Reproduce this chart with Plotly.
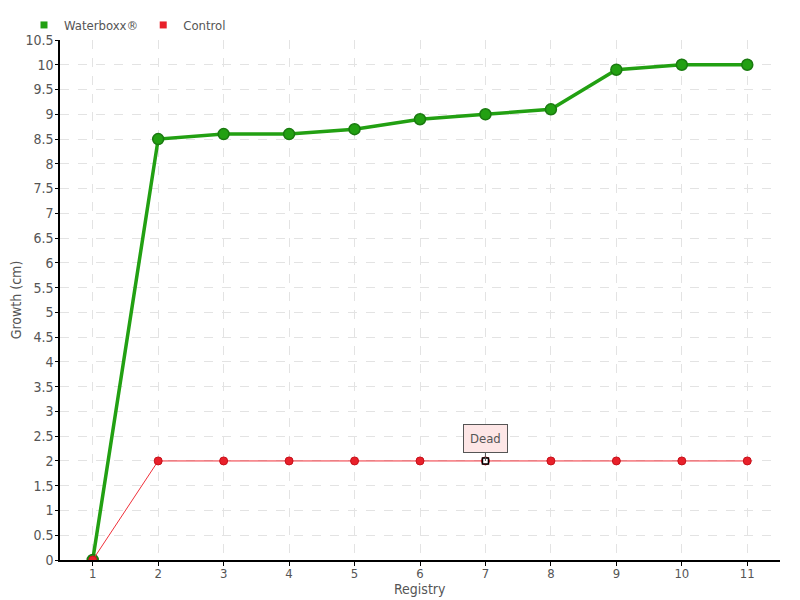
import plotly.graph_objects as go

registry = [1, 2, 3, 4, 5, 6, 7, 8, 9, 10, 11]
waterboxx = [0, 8.5, 8.6, 8.6, 8.7, 8.9, 9.0, 9.1, 9.9, 10.0, 10.0]
control = [0, 2, 2, 2, 2, 2, 2, 2, 2, 2, 2]
dead_at = 7
y_ticks = [i * 0.5 for i in range(22)]
y_labels = ["%g" % v for v in y_ticks]

FONT = "Liberation Sans Narrow, DejaVu Sans Condensed, Roboto"
GREY = "#555555"
GREEN = "#22a012"
RED = "#e8202a"

fig = go.Figure()
fig.add_trace(go.Scatter(
    x=registry, y=waterboxx, name="Waterboxx®", mode="lines+markers",
    legendgroup="w", showlegend=False,
    line=dict(color=GREEN, width=3.5),
    marker=dict(size=11, color=GREEN, line=dict(color="#1a7a10", width=1.5)),
))
fig.add_trace(go.Scatter(
    x=registry, y=control, name="Control", mode="lines+markers",
    legendgroup="c", showlegend=False,
    line=dict(color="#f0303a", width=1),
    marker=dict(size=8, color=RED, line=dict(color="#c8101a", width=1)),
))
# marker for the dead plant
fig.add_trace(go.Scatter(
    x=[dead_at], y=[control[registry.index(dead_at)]], mode="markers", showlegend=False,
    marker=dict(symbol="square", size=6, color="white", line=dict(color="black", width=1.5)),
))
# square legend entries
fig.add_trace(go.Scatter(x=[None], y=[None], name="Waterboxx®", mode="markers", legendgroup="w",
                         marker=dict(symbol="square", size=7, color=GREEN)))
fig.add_trace(go.Scatter(x=[None], y=[None], name="Control", mode="markers", legendgroup="c",
                         marker=dict(symbol="square", size=7, color=RED)))

fig.add_annotation(
    x=dead_at, y=control[registry.index(dead_at)], text="Dead",
    showarrow=True, arrowhead=0, arrowwidth=1, arrowcolor="#555555",
    ax=0, ay=-22, bgcolor="#fde6e6", bordercolor="#555555", borderwidth=1, borderpad=6,
    font=dict(family=FONT, size=13, color=GREY),
)
# x axis title sits tight under the tick labels
fig.add_annotation(
    x=0.5, y=0, xref="paper", yref="paper", yanchor="top", yshift=-19,
    text="Registry", showarrow=False, font=dict(family=FONT, size=14, color=GREY),
)

# the page body adds an 8px offset, so the figure is sized to fit the window
fig.update_layout(
    width=792, height=592,
    margin=dict(l=52, r=20, t=32, b=40, autoexpand=False),
    plot_bgcolor="white", paper_bgcolor="white",
    font=dict(family=FONT, size=14, color=GREY),
    legend=dict(orientation="h", x=-0.05, xanchor="left", y=1.0, yanchor="bottom",
                bgcolor="rgba(0,0,0,0)",
                font=dict(size=13, color=GREY), itemwidth=30, tracegroupgap=0),
    showlegend=True,
)
fig.update_xaxes(
    tickvals=registry, range=[0.5, 11.5], automargin=False,
    showline=True, linecolor="black", linewidth=1.5,
    ticks="outside", ticklen=4, tickcolor="black", ticklabelstandoff=-3,
    tickfont=dict(size=13),
    showgrid=True, gridcolor="#e3e3e3", griddash="dash", zeroline=False,
)
fig.update_yaxes(
    title=dict(text="Growth (cm)", standoff=6, font=dict(size=14, color=GREY)),
    tickvals=y_ticks, ticktext=y_labels, range=[0, 10.5], automargin=False,
    showline=True, linecolor="black", linewidth=1.5,
    ticks="outside", ticklen=3, tickcolor="black", ticklabelstandoff=-1,
    showgrid=True, gridcolor="#e3e3e3", griddash="dash", zeroline=False,
)

fig.write_html("out.html")
